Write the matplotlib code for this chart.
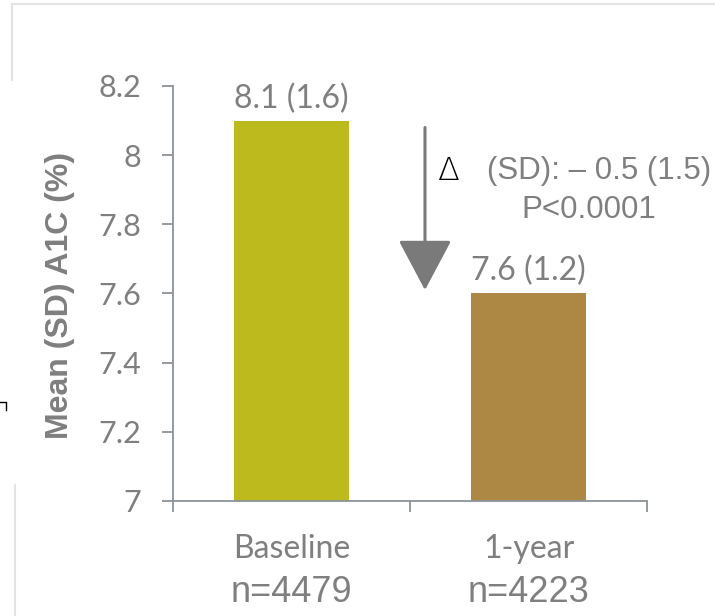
import matplotlib.pyplot as plt
from matplotlib.lines import Line2D

# A1C at baseline and after one year
categorias = ['Baseline', '1-year']
medias = [8.1, 7.6]
desvios = [1.6, 1.2]
n_pacientes = [4479, 4223]
cores = ['#BDBA1E', '#AD8844']
delta_media = -0.5
delta_dp = 1.5
texto_p = 'P<0.0001'
yticks = [7, 7.2, 7.4, 7.6, 7.8, 8, 8.2]

CINZA = '#7F7F7F'
EIXO = '#8A939A'

fig = plt.figure(figsize=(7.15, 6.16), dpi=100)
ax = fig.add_axes([0.242, 0.1867, 0.663, 0.6737])

x = list(range(len(categorias)))
ax.bar(x, medias, width=0.485, color=cores, zorder=2)

ax.set_xlim(-0.5, 1.5)
ax.set_ylim(7, 8.2)

for xi, m, s in zip(x, medias, desvios):
    ax.text(xi, m + 0.02, f'{m:g} ({s:g})', ha='center', va='bottom',
            fontsize=23, color=CINZA, family='Lato', clip_on=False)

# arrow showing the drop between the two visits
ax.annotate('', xy=(0.563, 7.61), xytext=(0.563, 8.08),
            arrowprops=dict(arrowstyle='-|>,head_length=1.6,head_width=0.85',
                            mutation_scale=20, color='#7A7A7A', lw=2.2,
                            shrinkA=0, shrinkB=0))
ax.text(0.612, 7.953, '\u0394', ha='left', va='center', fontsize=23,
        color='black', family='DejaVu Sans', fontweight='light', clip_on=False)
ax.text(0.823, 7.953, f'(SD): \u2013 {abs(delta_media):g} ({delta_dp:g})',
        ha='left', va='center', fontsize=22.5, color=CINZA,
        family='Liberation Sans', clip_on=False)
ax.text(1.255, 7.842, texto_p, ha='center', va='center', fontsize=22.5,
        color=CINZA, family='Liberation Sans', clip_on=False)

# axes styling
for lado in ['top', 'right']:
    ax.spines[lado].set_visible(False)
for lado in ['left', 'bottom']:
    ax.spines[lado].set_color(EIXO)
    ax.spines[lado].set_linewidth(1.3)

ax.set_yticks(yticks)
ax.set_yticklabels([f'{v:g}' for v in yticks])
ax.tick_params(axis='y', direction='out', length=8, width=1.3, color=EIXO,
               labelsize=22, labelcolor=CINZA, pad=15)
for lbl in ax.get_yticklabels():
    lbl.set_family('Lato')

ax.set_xticks(x)
ax.set_xticklabels([])
ax.tick_params(axis='x', which='major', length=0)
ax.set_xticks([-0.5, 0.5, 1.5], minor=True)
ax.tick_params(axis='x', which='minor', direction='out', length=8,
               width=1.3, color=EIXO)

# category names with the number of patients underneath
for xi, cat, n in zip(x, categorias, n_pacientes):
    ax.text(xi, -0.137, cat, transform=ax.get_xaxis_transform(),
            ha='center', va='baseline', fontsize=23, color=CINZA,
            family='Lato')
    ax.text(xi, -0.243, f'n={n}', transform=ax.get_xaxis_transform(),
            ha='center', va='baseline', fontsize=26, color=CINZA,
            family='Liberation Sans')

ax.set_ylabel('Mean (SD) A1C (%)', fontsize=23, fontweight='bold',
              color=CINZA, family='Liberation Sans')
ax.yaxis.set_label_coords(-0.207, 0.496)

# faint slide frame around the chart
moldura = '#E3E3E3'
fig.add_artist(Line2D([12 / 715, 1], [1 - 4 / 616, 1 - 4 / 616],
                      color=moldura, lw=1.5))
fig.add_artist(Line2D([12 / 715, 12 / 715], [1 - 4 / 616, 1 - 80 / 616],
                      color=moldura, lw=1.5))
fig.add_artist(Line2D([15 / 715, 15 / 715], [1 - 485 / 616, 0],
                      color=moldura, lw=1.5))
fig.add_artist(Line2D([0, 6 / 715, 6 / 715],
                      [1 - 402 / 616, 1 - 402 / 616, 1 - 410 / 616],
                      color='black', lw=1))

fig.savefig('out.png', dpi=100)
